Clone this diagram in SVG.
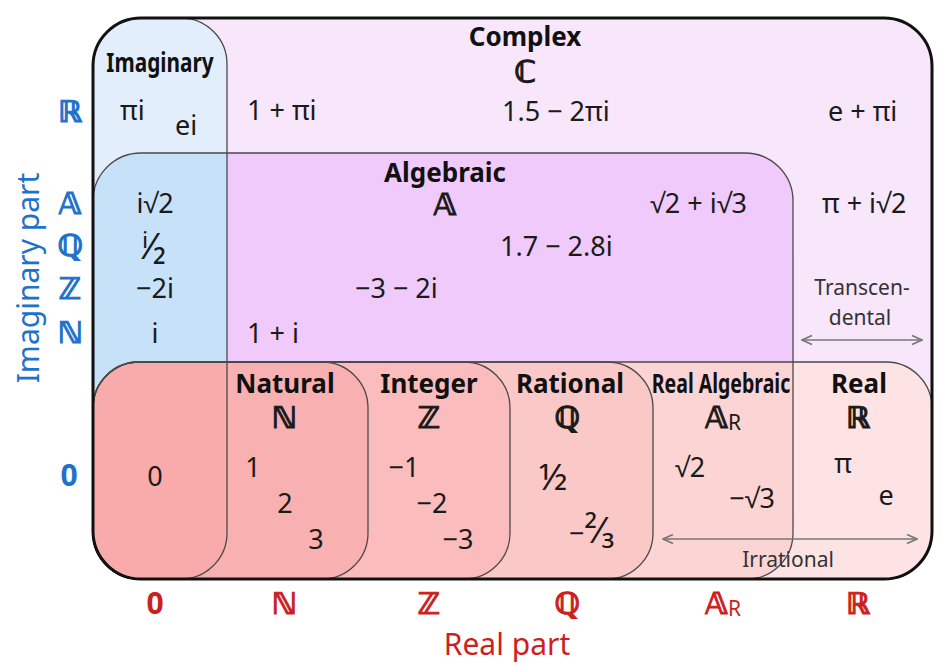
<svg xmlns="http://www.w3.org/2000/svg" width="951" height="669" viewBox="0 0 951 669">
<style>
.t{font-family:"Noto Sans","Open Sans","DejaVu Sans",sans-serif;fill:#1a1a1a;font-size:27px}
.f{font-family:"Noto Sans","Open Sans","DejaVu Sans",sans-serif;fill:#1a1a1a;font-size:37px}
.b{font-family:"Noto Sans","Open Sans","DejaVu Sans",sans-serif;fill:#111;font-size:26px;font-weight:bold}
.s{font-family:"Noto Sans","Open Sans","DejaVu Sans",sans-serif;fill:#333;font-size:21px}
.ds{font-family:"DejaVu Serif","DejaVu Sans",serif;font-weight:bold;font-size:30px;fill:#1a1a1a;stroke:#1a1a1a;stroke-width:1.1}
.blue{fill:#1f72c9;stroke:#1f72c9}
.red{fill:#cc1f1f;stroke:#cc1f1f}
.ax{font-family:"Noto Sans","Open Sans","DejaVu Sans",sans-serif;font-size:30px;stroke:none}
.sub{font-family:"Noto Sans","Open Sans","DejaVu Sans",sans-serif;font-size:21px;font-weight:normal;stroke:none}
.m{text-anchor:middle}
.ol{fill:none;stroke:#4a4a4a;stroke-width:1.3}
.arr{fill:none;stroke:#777;stroke-width:1.6;marker-start:url(#ah);marker-end:url(#ah)}
</style>
<defs>
<clipPath id="frameClip"><rect x="93" y="18" width="839" height="561" rx="48"/></clipPath>
<clipPath id="realClip"><rect x="93" y="362" width="839" height="217" rx="46"/></clipPath>
<clipPath id="imagClip"><path d="M93,18 H181 A46,46 0 0 1 227,64 V533 A46,46 0 0 1 181,579 H93 Z"/></clipPath>
<path id="imagShape" d="M93,18 H181 A46,46 0 0 1 227,64 V533 A46,46 0 0 1 181,579 H93 Z"/>
<path id="algShape" d="M93,201 A48,48 0 0 1 141,153 H745 A48,48 0 0 1 793,201 V533 A46,46 0 0 1 747,579 H93 Z"/>
<marker id="ah" viewBox="0 0 12 12" refX="11" refY="6" markerWidth="12" markerHeight="12" markerUnits="userSpaceOnUse" orient="auto-start-reverse">
<path d="M1,1.5 L11,6 L1,10.5" fill="none" stroke="#777" stroke-width="1.6"/>
</marker>
</defs>

<g id="region-fills" clip-path="url(#frameClip)">
<rect x="93" y="18" width="839" height="561" fill="#f8e6fb"/>
<use href="#algShape" fill="#efcafb"/>
<use href="#imagShape" fill="#e2eefb"/>
<g clip-path="url(#imagClip)"><use href="#algShape" fill="#c7e1f9"/></g>
<rect x="93" y="362" width="839" height="217" rx="46" fill="#fde3e3"/>
<g clip-path="url(#realClip)"><use href="#algShape" fill="#fcd4d4"/></g>
<rect x="93" y="362" width="560" height="217" rx="46" fill="#fbc8c8"/>
<rect x="93" y="362" width="417" height="217" rx="46" fill="#fabcbc"/>
<rect x="93" y="362" width="275" height="217" rx="46" fill="#f9b0b0"/>
<g clip-path="url(#realClip)"><use href="#imagShape" fill="#f9aaaa"/></g>
</g>

<g id="imaginary">
<use href="#imagShape" class="ol" clip-path="url(#frameClip)"/>
<text class="b m" transform="translate(160,72) scale(0.8,1)" font-size="25">Imaginary</text>
<text class="t" x="120" y="120">πi</text>
<text class="t" x="175" y="135">ei</text>
<text class="t m" x="155" y="213">i√2</text>
<text class="f m" x="154" y="259">ⁱ⁄₂</text>
<text class="t m" x="155" y="298">−2i</text>
<text class="t m" x="155" y="343">i</text>
</g>

<g id="algebraic">
<use href="#algShape" class="ol" clip-path="url(#frameClip)"/>
<text class="b m" x="445" y="182">Algebraic</text>
<text class="ds m" x="445" y="215">𝔸</text>
<text class="t" x="650" y="213">√2 + i√3</text>
<text class="t" x="500" y="256">1.7 − 2.8i</text>
<text class="t" x="355" y="298">−3 − 2i</text>
<text class="t" x="247" y="343">1 + i</text>
</g>

<g id="complex">
<text class="b m" x="525" y="46">Complex</text>
<text class="ds m" x="525" y="82">ℂ</text>
<text class="t" x="247" y="120">1 + πi</text>
<text class="t" x="502" y="121">1.5 − 2πi</text>
<text class="t" x="828" y="121">e + πi</text>
<text class="t" x="822" y="213">π + i√2</text>
</g>

<g id="transcendental">
<text class="s m" x="862" y="295">Transcen-</text>
<text class="s m" x="860" y="325">dental</text>
</g>

<g id="real">
<rect x="93" y="362" width="839" height="217" rx="46" class="ol"/>
<text class="b m" x="859" y="393">Real</text>
<text class="ds m" x="858" y="428">ℝ</text>
<text class="t m" x="843" y="473">π</text>
<text class="t m" x="886" y="505">e</text>
</g>

<g id="real-algebraic">
<text class="b m" transform="translate(721,393) scale(0.75,1)" font-size="25">Real Algebraic</text>
<text class="ds m" x="723" y="428">𝔸<tspan class="sub" fill="#1a1a1a" dy="2">R</tspan></text>
<text class="t m" x="690" y="477">√2</text>
<text class="t m" x="752" y="508">−√3</text>
</g>

<g id="rational">
<rect x="93" y="362" width="560" height="217" rx="46" class="ol"/>
<text class="b m" x="570" y="393">Rational</text>
<text class="ds m" x="567" y="428">ℚ</text>
<text class="f m" x="553" y="490">½</text>
<text class="t" x="569" y="543">−<tspan font-size="36">²⁄₃</tspan></text>
</g>

<g id="integer">
<rect x="93" y="362" width="417" height="217" rx="46" class="ol"/>
<text class="b m" x="429" y="393">Integer</text>
<text class="ds m" x="429" y="428">ℤ</text>
<text class="t m" x="404" y="477">−1</text>
<text class="t m" x="432" y="513">−2</text>
<text class="t m" x="458" y="549">−3</text>
</g>

<g id="natural">
<rect x="93" y="362" width="275" height="217" rx="46" class="ol"/>
<text class="b m" x="285" y="393">Natural</text>
<text class="ds m" x="284" y="428">ℕ</text>
<text class="t m" x="253" y="477">1</text>
<text class="t m" x="285" y="513">2</text>
<text class="t m" x="316" y="549">3</text>
</g>

<g id="zero">
<text class="t m" x="155" y="486">0</text>
</g>

<g id="frame">
<rect x="93" y="18" width="839" height="561" rx="48" fill="none" stroke="#111" stroke-width="3"/>
</g>

<g id="connectors">
<line class="arr" x1="802" y1="340" x2="922" y2="340"/>
<line class="arr" x1="663" y1="539" x2="917" y2="539"/>
</g>
<g id="irrational">
<text class="s m" x="788" y="567">Irrational</text>
</g>

<g id="imaginary-axis">
<text class="ax blue m" transform="translate(39,278) rotate(-90)" font-size="31">Imaginary part</text>
<text class="ds blue m" x="70" y="122">ℝ</text>
<text class="ds blue m" x="70" y="214">𝔸</text>
<text class="ds blue m" x="70" y="256">ℚ</text>
<text class="ds blue m" x="70" y="299">ℤ</text>
<text class="ds blue m" x="70" y="343">ℕ</text>
<text class="ax blue m" x="69" y="486" font-weight="bold" font-size="28">0</text>
</g>

<g id="real-axis">
<text class="ax red m" x="507" y="655">Real part</text>
<text class="ax red m" x="155" y="614" font-weight="bold" font-size="28">0</text>
<text class="ds red m" x="284" y="614">ℕ</text>
<text class="ds red m" x="429" y="614">ℤ</text>
<text class="ds red m" x="567" y="614">ℚ</text>
<text class="ds red m" x="723" y="614">𝔸<tspan class="sub" dy="2">R</tspan></text>
<text class="ds red m" x="858" y="614">ℝ</text>
</g>
</svg>
